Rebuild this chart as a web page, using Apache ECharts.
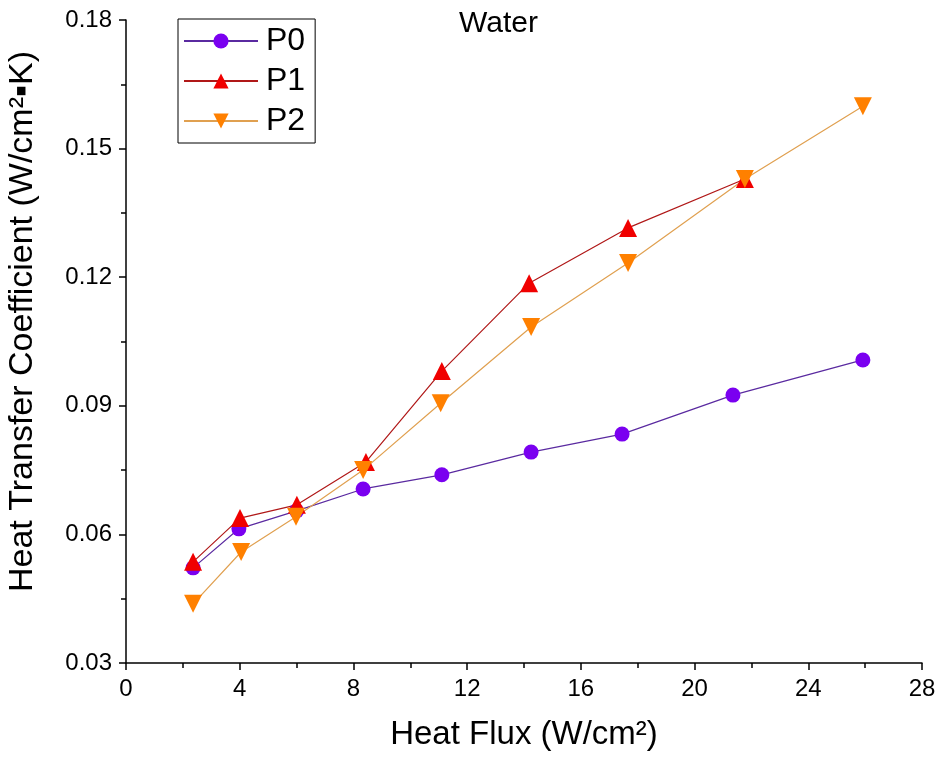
<!DOCTYPE html>
<html>
<head>
<meta charset="utf-8">
<script src="https://cdn.jsdelivr.net/npm/echarts@6/dist/echarts.min.js"></script>
<style>html,body{margin:0;padding:0;background:#fff}#c{width:943px;height:757px}</style>
</head>
<body>
<div id="c"></div>
<script>
const xP0 = [2.36, 3.97, 6.0, 8.34, 11.11, 14.25, 17.45, 21.35, 25.92];
const yP0 = [0.0522, 0.0613, 0.0655, 0.0706, 0.0739, 0.0792, 0.0834, 0.0925, 0.1007];
const xP1 = [2.36, 4.01, 6.01, 8.44, 11.11, 14.18, 17.66, 21.77];
const yP1 = [0.0536, 0.0638, 0.0669, 0.0769, 0.0981, 0.1186, 0.1315, 0.1429];
const xP2 = [2.36, 4.05, 5.98, 8.34, 11.07, 14.25, 17.66, 21.77, 25.92];
const yP2 = [0.0438, 0.0559, 0.0641, 0.0750, 0.0906, 0.1084, 0.1233, 0.1429, 0.1599];
const seriesNames = ['P0', 'P1', 'P2'];
const xTicks = [0, 4, 8, 12, 16, 20, 24, 28];
const yTicks = [0.03, 0.06, 0.09, 0.12, 0.15, 0.18];

const zip = (xs, ys) => xs.map((x, i) => [x, ys[i]]);
const font = 'Arial, "Liberation Sans", sans-serif';
const chart = echarts.init(document.getElementById('c'));
chart.setOption({
  backgroundColor: '#fff',
  animation: false,
  textStyle: { fontFamily: font },
  title: {
    text: 'Water', left: 454, top: 4,
    textStyle: { fontFamily: font, fontSize: 30, fontWeight: 'normal', color: '#000' }
  },
  legend: {
    orient: 'vertical', left: 178, top: 19,
    padding: [6, 10, 6, 5], itemGap: 8,
    itemWidth: 74, itemHeight: 19,
    borderColor: '#000', borderWidth: 1,
    textStyle: { fontFamily: font, fontSize: 32, color: '#000', padding: [0, 0, 0, 3] },
    data: seriesNames
  },
  grid: { left: 126, right: 21, top: 20, bottom: 94, containLabel: false, outerBoundsMode: 'none' },
  xAxis: {
    type: 'value', min: xTicks[0], max: xTicks[xTicks.length - 1], interval: 4,
    name: 'Heat Flux (W/cm²)', nameLocation: 'middle', nameGap: 55,
    nameTextStyle: { fontFamily: font, fontSize: 33, color: '#000' },
    axisLine: { lineStyle: { color: '#000', width: 1.5 } },
    axisTick: { inside: false, length: 7, lineStyle: { color: '#000', width: 1.5 } },
    minorTick: { show: true, splitNumber: 2, length: 5, lineStyle: { color: '#000', width: 1.5 } },
    axisLabel: { fontFamily: font, fontSize: 24, color: '#000', margin: 14 },
    splitLine: { show: false }
  },
  yAxis: {
    type: 'value', min: yTicks[0], max: yTicks[yTicks.length - 1], interval: 0.03,
    name: 'Heat Transfer Coefficient (W/cm²▪K)', nameLocation: 'middle', nameGap: 86,
    nameTextStyle: { fontFamily: font, fontSize: 34, color: '#000', padding: [0, 0, 0, 40] },
    axisLine: { show: true, lineStyle: { color: '#000', width: 1.5 } },
    axisTick: { show: true, inside: false, length: 7, lineStyle: { color: '#000', width: 1.5 } },
    minorTick: { show: true, splitNumber: 2, length: 5, lineStyle: { color: '#000', width: 1.5 } },
    axisLabel: { fontFamily: font, fontSize: 24, color: '#000', margin: 14, formatter: v => v.toFixed(2) },
    splitLine: { show: false }
  },
  series: [
    {
      name: seriesNames[0], type: 'line', data: zip(xP0, yP0),
      symbol: 'circle', symbolSize: 15,
      itemStyle: { color: '#7a00f0' },
      lineStyle: { color: '#5a2aa0', width: 1.2 }
    },
    {
      name: seriesNames[1], type: 'line', data: zip(xP1, yP1),
      symbol: 'triangle', symbolSize: 18,
      itemStyle: { color: '#f00000' },
      lineStyle: { color: '#b01818', width: 1.2 }
    },
    {
      name: seriesNames[2], type: 'line', data: zip(xP2, yP2),
      symbol: 'triangle', symbolRotate: 180, symbolSize: 18,
      itemStyle: { color: '#ff8000' },
      lineStyle: { color: '#e0a050', width: 1.2 }
    }
  ]
});
</script>
</body>
</html>
